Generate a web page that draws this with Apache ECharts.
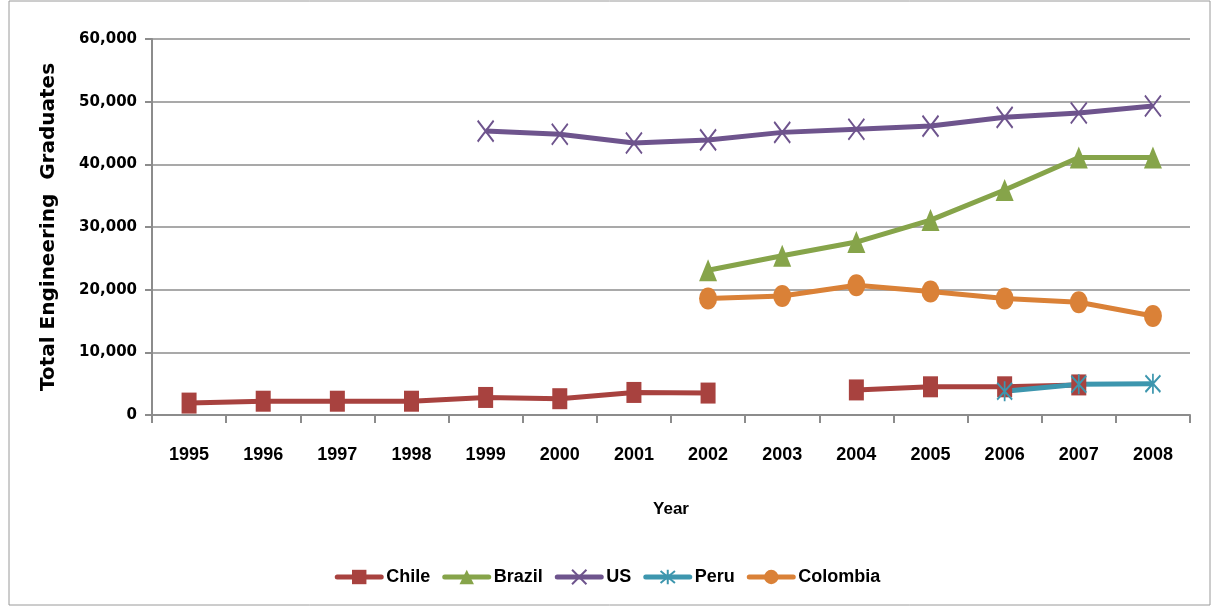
<!DOCTYPE html>
<html><head><meta charset="utf-8">
<script src="https://cdn.jsdelivr.net/npm/echarts@6/dist/echarts.min.js"></script>
<style>html,body{margin:0;padding:0;background:#fff}#c{width:1215px;height:609px}</style>
</head><body><div id="c"></div>
<script>
const years = ['1995','1996','1997','1998','1999','2000','2001','2002','2003','2004','2005','2006','2007','2008'];
const chile    = [1900,2200,2200,2200,2800,2600,3600,3500,null,4000,4500,4500,4800,null];
const brazil   = [null,null,null,null,null,null,null,23100,25400,27600,31100,35900,41100,41100];
const us       = [null,null,null,null,45300,44800,43400,43900,45100,45600,46100,47500,48200,49300];
const peru     = [null,null,null,null,null,null,null,null,null,null,null,3800,4900,5000];
const colombia = [null,null,null,null,null,null,null,18600,19000,20700,19700,18600,18000,15800];
const yTicks = [0,10000,20000,30000,40000,50000,60000];

const font = "'Liberation Sans Narrow','Liberation Sans',Arial,sans-serif";
const xSym = 'path://M0,0L10,10M10,0L0,10';
const starSym = 'path://M0,0L10,10M10,0L0,10M5,-1L5,11';
function mk(name, data, color, symbol, size, stroke){
  return {
    name, type:'line', data, connectNulls:false, symbol, symbolSize:size,
    lineStyle:{color, width:5},
    itemStyle: stroke ? {color:'rgba(0,0,0,0)', borderColor:color, borderWidth:2} : {color},
    emphasis:{disabled:true}, z: 3
  };
}
const chart = echarts.init(document.getElementById('c'));
chart.setOption({
  animation:false,
  graphic:[{type:'rect', shape:{x:9,y:1,width:1201,height:604}, style:{fill:'none', stroke:'#9a9a9a', lineWidth:1}, silent:true}],
  grid:{left:152, right:25, top:39, bottom:194},
  legend:{
    bottom:18, left:'center', itemWidth:44, itemHeight:18, itemGap:12,
    lineStyle:{width:5, cap:'round'},
    textStyle:{fontFamily:font, fontWeight:'bold', fontSize:18, color:'#000'},
    data:['Chile','Brazil','US','Peru','Colombia']
  },
  xAxis:{
    type:'category', data:years, boundaryGap:true,
    name:'Year', nameLocation:'middle', nameGap:86,
    nameTextStyle:{fontFamily:font, fontWeight:'bold', fontSize:17, color:'#000'},
    axisLine:{lineStyle:{color:'#8c8c8c', width:2}},
    axisTick:{show:true, length:8, lineStyle:{color:'#8c8c8c', width:2}},
    axisLabel:{fontFamily:font, fontWeight:'bold', fontSize:18, color:'#000', margin:31}
  },
  yAxis:{
    type:'value', min:0, max:60000, interval:10000,
    name:'Total Engineering  Graduates', nameLocation:'middle', nameGap:93, nameRotate:90,
    nameTextStyle:{fontFamily:"'DejaVu Sans',sans-serif", fontWeight:'bold', fontSize:20, color:'#000'},
    axisLine:{show:true, lineStyle:{color:'#8c8c8c', width:2}},
    axisTick:{show:true, length:7, lineStyle:{color:'#8c8c8c', width:2}},
    splitLine:{lineStyle:{color:'#8c8c8c', width:1.5}},
    axisLabel:{fontFamily:"'DejaVu Sans',sans-serif", fontWeight:'bold', fontSize:15, color:'#000', margin:15,
      formatter:v=> yTicks.includes(v) ? v.toLocaleString('en-US') : ''}
  },
  series:[
    mk('Chile', chile, '#A8423F', 'rect', [15,21]),
    mk('Brazil', brazil, '#86A44A', 'triangle', [18,22]),
    mk('US', us, '#6E548D', xSym, [16,21], true),
    mk('Peru', peru, '#3D96AE', starSym, [15,20], true),
    mk('Colombia', colombia, '#DA8137', 'circle', [18,22])
  ]
});
</script></body></html>
